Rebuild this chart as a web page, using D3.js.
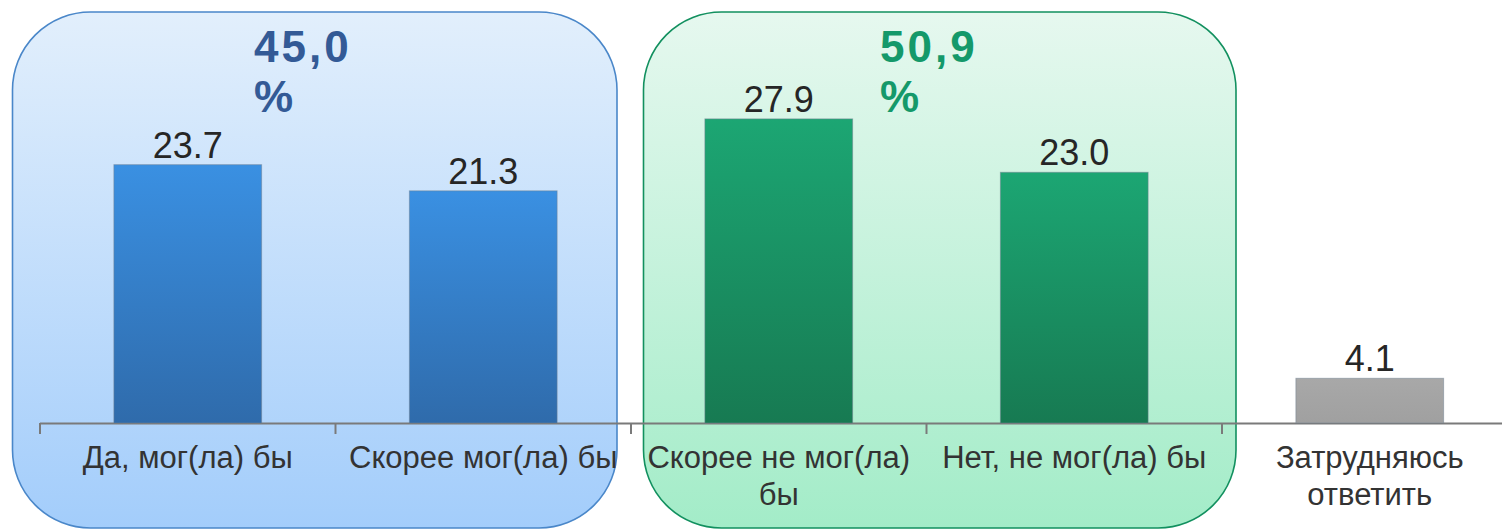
<!DOCTYPE html>
<html>
<head>
<meta charset="utf-8">
<script src="https://cdnjs.cloudflare.com/ajax/libs/d3/7.8.5/d3.min.js"></script>
<style>
  body { margin: 0; background: #fff; }
  text { font-family: "Liberation Sans", Arial, sans-serif; }
</style>
</head>
<body>
<script>
// answers
const categories = ["Да, мог(ла) бы", "Скорее мог(ла) бы", "Скорее не мог(ла) бы", "Нет, не мог(ла) бы", "Затрудняюсь ответить"];
const values = [23.7, 21.3, 27.9, 23.0, 4.1];
const groups = ["yes", "yes", "no", "no", "na"];
// label lines for the wrapped ones
const labelLines = [["Да, мог(ла) бы"], ["Скорее мог(ла) бы"], ["Скорее не мог(ла)", "бы"], ["Нет, не мог(ла) бы"], ["Затрудняюсь", "ответить"]];
const totals = [{ text: "45,0", group: "yes", from: 0, to: 1 }, { text: "50,9", group: "no", from: 2, to: 3 }];

const width = 1502, height = 530;
const baseY = 423;

const svg = d3.select("body").append("svg")
  .attr("width", width)
  .attr("height", height);

const x = d3.scaleBand().domain(categories).range([40, 40 + 5 * 295.5]).paddingInner(0.5).paddingOuter(0.25);
const y = d3.scaleLinear().domain([0, 30]).range([baseY, baseY - 327]);

const defs = svg.append("defs");
function grad(id, top, bottom) {
  const g = defs.append("linearGradient").attr("id", id).attr("x1", 0).attr("y1", 0).attr("x2", 0).attr("y2", 1);
  g.append("stop").attr("offset", "0%").attr("stop-color", top);
  g.append("stop").attr("offset", "100%").attr("stop-color", bottom);
}
grad("boxYes", "#e2effc", "#a3cdfb");
grad("boxNo", "#e6f8ef", "#a3ecc8");
grad("barYes", "#3a90e2", "#2f6bab");
grad("barNo", "#1ca673", "#177a52");
grad("barNa", "#a8a8a8", "#a0a0a0");

const boxStyle = {
  yes: { fill: "url(#boxYes)", stroke: "#4a87c9", text: "#335a96" },
  no: { fill: "url(#boxNo)", stroke: "#12905f", text: "#14996a" }
};
const barFill = { yes: "url(#barYes)", no: "url(#barNo)", na: "url(#barNa)" };

// group boxes
const boxX = { yes: [12.5, 617], no: [643.5, 1236] };
svg.selectAll("rect.box").data(totals).join("rect")
  .attr("class", "box")
  .attr("x", d => boxX[d.group][0])
  .attr("y", 12)
  .attr("width", d => boxX[d.group][1] - boxX[d.group][0])
  .attr("height", 516)
  .attr("rx", 78)
  .attr("fill", d => boxStyle[d.group].fill)
  .attr("stroke", d => boxStyle[d.group].stroke)
  .attr("stroke-width", 1.6);

// axis
const axis = svg.append("g");
axis.append("line")
  .attr("x1", 40).attr("x2", width)
  .attr("y1", baseY + 0.5).attr("y2", baseY + 0.5)
  .attr("stroke", "#7a7a7a").attr("stroke-width", 2);
const tickX = d3.range(categories.length + 1).map(i => 40 + i * x.step());
axis.selectAll("line.tick").data(tickX).join("line")
  .attr("class", "tick")
  .attr("x1", d => d).attr("x2", d => d)
  .attr("y1", baseY).attr("y2", baseY + 11)
  .attr("stroke", "#7a7a7a").attr("stroke-width", 2);

// bars
svg.selectAll("rect.bar").data(values).join("rect")
  .attr("class", "bar")
  .attr("x", (d, i) => x(categories[i]))
  .attr("y", d => y(d))
  .attr("width", x.bandwidth())
  .attr("height", d => baseY - y(d))
  .attr("fill", (d, i) => barFill[groups[i]])
  .attr("stroke", "#6f7f8f").attr("stroke-opacity", 0.5);

// value labels
svg.selectAll("text.val").data(values).join("text")
  .attr("class", "val")
  .attr("x", (d, i) => x(categories[i]) + x.bandwidth() / 2)
  .attr("y", d => y(d) - 7)
  .attr("text-anchor", "middle")
  .attr("font-size", 36)
  .attr("fill", "#262626")
  .text(d => d.toFixed(1));

// category labels
const cat = svg.selectAll("text.cat").data(labelLines).join("text")
  .attr("class", "cat")
  .attr("text-anchor", "middle")
  .attr("font-size", 31)
  .attr("fill", "#333333");
cat.selectAll("tspan").data((d, i) => d.map(t => ({ t, i }))).join("tspan")
  .attr("x", d => x(categories[d.i]) + x.bandwidth() / 2)
  .attr("y", (d, j) => 468 + j * 37)
  .text(d => d.t);

// group totals
const tot = svg.selectAll("text.tot").data(totals).join("text")
  .attr("class", "tot")
  .attr("font-family", "'DejaVu Sans', sans-serif")
  .attr("font-weight", "bold")
  .attr("font-size", 44)
  .attr("letter-spacing", 3)
  .attr("fill", d => boxStyle[d.group].text);
tot.append("tspan").attr("x", d => d.group === "yes" ? 254 : 880).attr("y", 62).text(d => d.text);
tot.append("tspan").attr("x", d => d.group === "yes" ? 254 : 880).attr("y", 112).text("%");
</script>
</body>
</html>
